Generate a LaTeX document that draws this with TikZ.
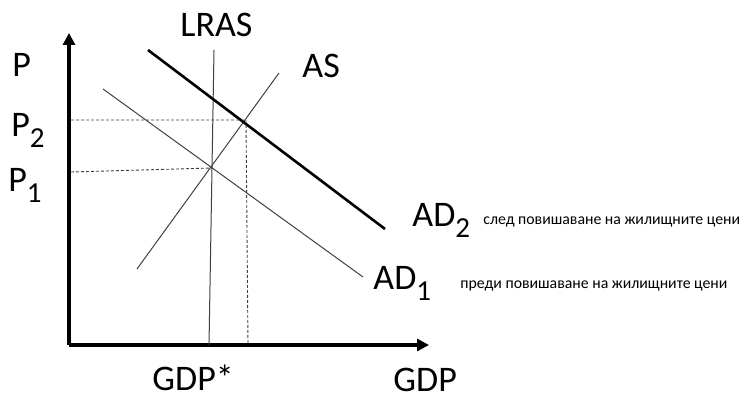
\documentclass[tikz,border=0pt]{standalone}
\usepackage{fontspec}
\setmainfont{Carlito}
\usetikzlibrary{arrows.meta}
\tikzset{
  >={Triangle[length=6pt,width=6pt]},
  axis/.style={->,line width=2pt},
  curve/.style={draw=#1,line width=0.5pt},
  curve/.default=black!75,
  shifted curve/.style={draw=black,line width=1.3pt},
  guide/.style={draw=black!75,line width=0.45pt,dash pattern=on 1.5pt off 1pt},
  lab/.style={font=\fontsize{18}{20}\selectfont,inner sep=0pt,anchor=base west},
  note/.style={font=\fontsize{7.9}{10}\selectfont,inner sep=0pt,anchor=base west},
}
\newcommand{\lowsub}[1]{\raisebox{-0.3em}{\fontsize{14.5}{15}\selectfont#1}}

\begin{document}
\begin{tikzpicture}[x=0.5pt,y=-0.5pt]
  \useasboundingbox (0,0) rectangle (748,399);
  % axes
  \coordinate (o) at (69,345);
  \coordinate (ytop) at (69,33);
  \coordinate (xend) at (429,345);
  \draw[axis] (o) -- (ytop);
  \draw[axis] (o) -- (xend);
  % curves
  \coordinate (lras1) at (214,50);  \coordinate (lras2) at (209,345);
  \coordinate (as1) at (279,73);    \coordinate (as2) at (137,269);
  \coordinate (adb1) at (103,89);   \coordinate (adb2) at (363,277);
  \coordinate (ada1) at (148,50);   \coordinate (ada2) at (385,229);
  \draw[curve] (lras1) -- (lras2);
  \draw[curve] (as1) -- (as2);
  \draw[curve] (adb1) -- (adb2);
  \draw[shifted curve] (ada1) -- (ada2);
  % equilibrium guides
  \coordinate (e1) at (212,168);  \coordinate (p1) at (71,172);
  \coordinate (e2) at (246,120);  \coordinate (p2) at (71,120);
  \coordinate (q2) at (248,345);
  \draw[guide] (p1) -- (e1);
  \draw[guide] (p2) -- (e2) -- (q2);
  % labels
  \node[lab] (lrastxt) at (180,37) {LRAS};
  \node[lab] (astxt) at (302,78) {AS};
  \node[lab] (ptxt) at (12,77) {P};
  \node[lab] (p2txt) at (11,137) {P\lowsub{2}};
  \node[lab] (p1txt) at (8,192) {P\lowsub{1}};
  \node[lab] (ad2txt) at (412,227) {AD\lowsub{2}};
  \node[note] (ad2note) at (483,225) {след повишаване на жилищните цени};
  \node[lab] (ad1txt) at (373,290) {AD\lowsub{1}};
  \node[note] (ad1note) at (460,289) {преди повишаване на жилищните цени};
  \node[lab] (gdpstar) at (152,391) {GDP*};
  \node[lab] (gdptxt) at (393,392) {GDP};
\end{tikzpicture}
\end{document}
